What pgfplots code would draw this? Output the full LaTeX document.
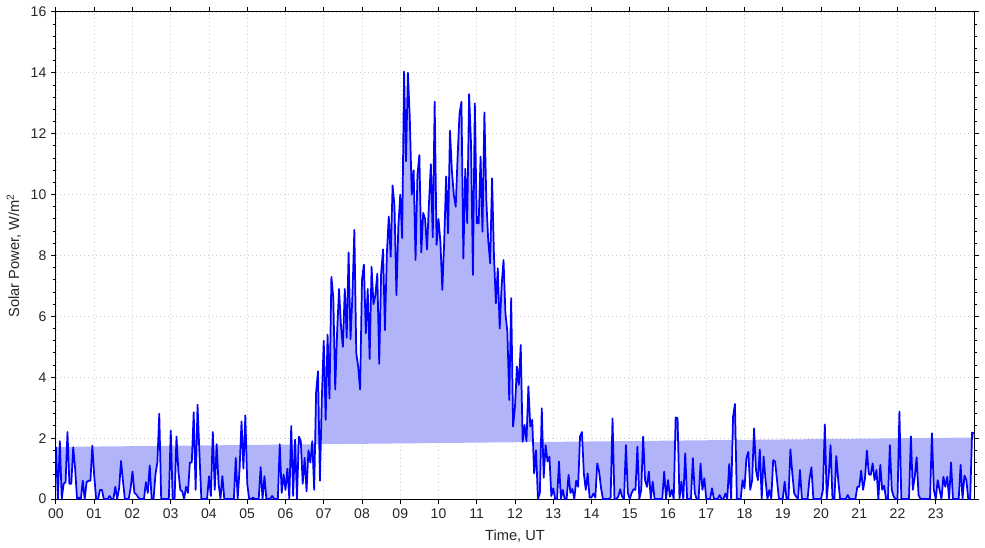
\documentclass[border=0pt]{standalone}
\usepackage{fontspec}
\setmainfont{Liberation Sans}
\usepackage{pgfplots}
\usepackage{pgfplotstable}
\pgfplotsset{compat=1.18}
\usepgfplotslibrary{fillbetween}
\definecolor{fillc}{RGB}{178,180,250}

\pgfplotstableread[row sep=\\, header=false]{
1.7\\ 0\\ 1.9\\ 0\\ 0.5\\ 0.55\\ 2.2\\ 0.5\\ 0.5\\ 1.7\\ 1.0\\ 0\\ 0.05\\ 0\\ 0.6\\ 0\\ 0.55\\ 0.6\\ 0.6\\ 1.75\\
0.75\\ 0\\ 0\\ 0.3\\ 0.3\\ 0\\ 0\\ 0\\ 0.1\\ 0\\ 0\\ 0.4\\ 0\\ 0.35\\ 1.25\\ 0.6\\ 0\\ 0\\ 0\\ 0.35\\
0.9\\ 0.2\\ 0.15\\ 0.05\\ 0\\ 0\\ 0\\ 0.55\\ 0.2\\ 1.1\\ 0\\ 0\\ 0.8\\ 1.2\\ 2.8\\ 0\\ 0\\ 0\\ 0\\ 0\\
2.25\\ 0\\ 0\\ 2.05\\ 0.9\\ 0.3\\ 0.25\\ 0\\ 0.4\\ 0.2\\ 1.2\\ 1.2\\ 2.85\\ 0.3\\ 3.1\\ 1.5\\ 0\\ 0\\ 0\\ 0\\
0.75\\ 0.1\\ 2.2\\ 0.3\\ 1.8\\ 0.5\\ 0\\ 0.75\\ 0\\ 0\\ 0\\ 0\\ 0\\ 0\\ 1.35\\ 0\\ 1.0\\ 2.55\\ 1.0\\ 2.75\\
0.5\\ 0\\ 0\\ 0.05\\ 0\\ 0\\ 0\\ 1.05\\ 0\\ 0.75\\ 0\\ 0\\ 0\\ 0.1\\ 0\\ 0\\ 0\\ 1.8\\ 0.2\\ 0.8\\
0.3\\ 1.0\\ 0\\ 2.4\\ 0.1\\ 1.95\\ 0\\ 2.05\\ 1.9\\ 0.5\\ 1.35\\ 0.25\\ 1.6\\ 1.2\\ 1.9\\ 0.3\\ 3.5\\ 4.2\\ 0.6\\ 3.3\\
5.2\\ 2.6\\ 5.4\\ 3.3\\ 7.3\\ 6.6\\ 3.6\\ 5.5\\ 6.9\\ 5.7\\ 5.0\\ 6.9\\ 5.3\\ 8.1\\ 5.25\\ 6.7\\ 8.84\\ 4.8\\ 4.35\\ 3.6\\
7.2\\ 7.7\\ 5.44\\ 6.9\\ 4.6\\ 7.63\\ 6.4\\ 6.7\\ 7.4\\ 4.44\\ 7.4\\ 8.2\\ 5.55\\ 8.07\\ 9.28\\ 7.96\\ 10.3\\ 9.6\\ 6.7\\ 8.95\\
10.0\\ 8.57\\ 14.04\\ 11.1\\ 14.0\\ 12.5\\ 10.0\\ 10.8\\ 7.85\\ 10.65\\ 11.3\\ 8.1\\ 9.4\\ 9.2\\ 8.2\\ 9.7\\ 11.0\\ 8.6\\ 13.05\\ 8.35\\
9.2\\ 8.45\\ 6.87\\ 8.5\\ 10.6\\ 8.73\\ 12.1\\ 10.8\\ 10.0\\ 9.6\\ 11.25\\ 12.67\\ 13.05\\ 7.9\\ 10.85\\ 9.06\\ 13.3\\ 11.7\\ 7.36\\ 13.0\\
9.06\\ 9.06\\ 11.25\\ 8.78\\ 12.7\\ 9.82\\ 8.5\\ 7.74\\ 10.54\\ 8.0\\ 6.43\\ 7.58\\ 5.6\\ 7.0\\ 7.85\\ 6.1\\ 5.5\\ 3.25\\ 6.6\\ 2.38\\
3.03\\ 4.35\\ 3.75\\ 5.06\\ 1.88\\ 2.43\\ 1.9\\ 3.7\\ 2.38\\ 2.6\\ 0.84\\ 1.6\\ 0\\ 0.2\\ 2.98\\ 0.7\\ 1.77\\ 1.23\\ 1.39\\ 0.1\\
0.35\\ 0\\ 0\\ 1.23\\ 0\\ 0.3\\ 0\\ 0\\ 0.79\\ 0.2\\ 0.33\\ 0\\ 0.6\\ 0.4\\ 2.05\\ 2.2\\ 0.84\\ 0.3\\ 0.84\\ 0.05\\
0.05\\ 0.18\\ 0.05\\ 1.17\\ 0.9\\ 0.35\\ 0\\ 0\\ 0\\ 0\\ 0.05\\ 2.65\\ 0\\ 0\\ 0.08\\ 0.32\\ 0.08\\ 0\\ 1.77\\ 0.2\\
0\\ 0.2\\ 0.32\\ 0.3\\ 1.72\\ 0\\ 0.3\\ 2.05\\ 0.62\\ 0.4\\ 0.9\\ 0\\ 0.57\\ 0\\ 0\\ 0\\ 0\\ 0\\ 0.9\\ 0\\
0.62\\ 0.08\\ 0.3\\ 0\\ 2.68\\ 2.65\\ 0\\ 0.57\\ 0\\ 1.5\\ 0\\ 0\\ 0\\ 1.34\\ 0.2\\ 0\\ 0\\ 1.17\\ 0.3\\ 0.68\\
0\\ 0\\ 0\\ 0.35\\ 0\\ 0\\ 0\\ 0.13\\ 0\\ 0\\ 0.18\\ 0\\ 1.15\\ 0\\ 2.7\\ 3.12\\ 0\\ 0\\ 0\\ 0.62\\
0.35\\ 1.34\\ 1.55\\ 0.3\\ 0.62\\ 2.32\\ 0.95\\ 0.62\\ 1.63\\ 0\\ 1.39\\ 0.62\\ 0\\ 0.3\\ 0\\ 1.28\\ 1.23\\ 0.62\\ 0\\ 0\\
0\\ 0.57\\ 0\\ 0\\ 1.63\\ 0.84\\ 0.18\\ 0.08\\ 0\\ 0.95\\ 0\\ 0\\ 0\\ 0\\ 0.68\\ 1.04\\ 0\\ 0\\ 0\\ 0\\
0\\ 0.3\\ 2.45\\ 0\\ 0.73\\ 1.77\\ 0\\ 0\\ 1.41\\ 0.62\\ 0\\ 0\\ 0\\ 0\\ 0.13\\ 0\\ 0\\ 0\\ 0\\ 0.4\\
0.4\\ 0.93\\ 0.3\\ 0.68\\ 1.59\\ 0.82\\ 0.79\\ 1.17\\ 0.62\\ 0.95\\ 0\\ 1.12\\ 0.3\\ 0.44\\ 0\\ 0\\ 1.77\\ 0.3\\ 0.08\\ 0\\
0\\ 2.87\\ 0\\ 0\\ 0\\ 0\\ 0\\ 2.06\\ 0.3\\ 0.71\\ 1.37\\ 0.13\\ 0\\ 0\\ 0\\ 0\\ 0\\ 0\\ 2.16\\ 0.3\\
0\\ 0.62\\ 0.3\\ 0\\ 0.73\\ 0.4\\ 0.73\\ 0\\ 1.2\\ 0\\ 0\\ 0\\ 0\\ 1.12\\ 0\\ 0.77\\ 0.62\\ 0\\ 0\\ 2.18\\
2.16\\
}\solar

\begin{document}
\begin{tikzpicture}
\begin{axis}[
  scale only axis, width=688.5pt, height=365.25pt,
  xmin=0, xmax=24, ymin=0, ymax=16,
  xtick={0,1,...,23},
  xticklabels={00,01,02,03,04,05,06,07,08,09,10,11,12,13,14,15,16,17,18,19,20,21,22,23},
  ytick={0,2,...,16},
  minor y tick num=4,
  tick align=outside,
  major tick length=3.75pt, minor tick length=2.25pt,
  every tick/.style={black, line width=0.75pt},
  axis line style={line width=0.75pt},
  grid=major,
  major grid style={gray!40, line width=0.6pt, dash pattern=on 0.7pt off 2.3pt},
  /pgf/number format/assume math mode=true,
  tick label style={font=\fontsize{10.5}{12}\selectfont, text=black!85},
  label style={font=\fontsize{11}{13}\selectfont, text=black!85},
  xlabel={Time, UT},
  ylabel={Solar Power, W/m\textsuperscript{2}},
  x label style={at={(axis description cs:0.5,-0.076)}, anchor=center},
  y label style={at={(axis description cs:-0.0458,0.5)}, anchor=center},
]
\addplot[draw=none, name path=data, forget plot] table[x expr=\coordindex/20, y index=0] {\solar};
\addplot[draw=none, name path=base, forget plot] coordinates {(0,1.71) (24,2.02)};
\addplot[fill=fillc, draw=none, forget plot] fill between[of=data and base];
\addplot[blue, line width=1.3pt, line join=round] table[x expr=\coordindex/20, y index=0] {\solar};
\coordinate (ll) at (rel axis cs:0,0);
\coordinate (ur) at (rel axis cs:1,1);
\end{axis}
\pgfresetboundingbox
\path ([shift={(-42pt,-36pt)}]ll) rectangle ([shift={(8.25pt,9pt)}]ur);
\end{tikzpicture}
\end{document}
